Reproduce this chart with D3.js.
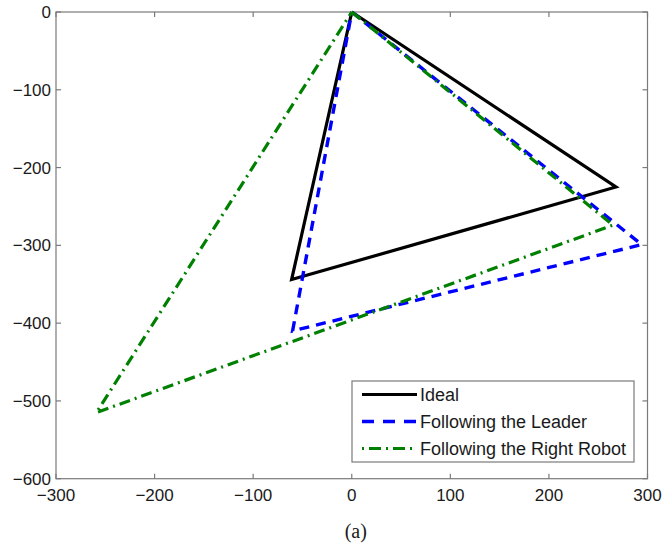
<!DOCTYPE html>
<html>
<head>
<meta charset="utf-8">
<script src="https://cdn.jsdelivr.net/npm/d3@7"></script>
<style>
  html, body { margin: 0; padding: 0; background: #fff; }
  svg { display: block; }
</style>
</head>
<body>
<script>
// Formation triangles (x, y) – vertices in order, closed back to the start
const ideal = [[0, 0], [268, -225], [-61, -344], [0, 0]];
const leader = [[0, 0], [294, -299], [-60, -410], [0, 0]];
const rightRobot = [[0, 0], [265, -274], [-259, -515], [0, 0]];

const seriesNames = ["Ideal", "Following the Leader", "Following the Right Robot"];
const xTicks = [-300, -200, -100, 0, 100, 200, 300];
const yTicks = [0, -100, -200, -300, -400, -500, -600];
const caption = "(a)";

const W = 667, H = 545;
const plotL = 56, plotR = 647.5, plotT = 12, plotB = 478.7;

const svg = d3.select("body").append("svg").attr("width", W).attr("height", H);

const x = d3.scaleLinear().domain([-300, 300]).range([plotL, plotR]);
const y = d3.scaleLinear().domain([-600, 0]).range([plotB, plotT]);

const axisColor = "#7a7a7a";
const textColor = "#1a1a1a";
const font = "Liberation Sans";
const fs = 17;

// Plot box
svg.append("rect")
  .attr("x", plotL).attr("y", plotT)
  .attr("width", plotR - plotL).attr("height", plotB - plotT)
  .attr("fill", "none").attr("stroke", axisColor).attr("stroke-width", 1.2);

// Inward ticks on all four sides
const tl = 5;
const tickG = svg.append("g").attr("stroke", axisColor).attr("stroke-width", 1.2);
xTicks.forEach(t => {
  tickG.append("line").attr("x1", x(t)).attr("x2", x(t)).attr("y1", plotB).attr("y2", plotB - tl);
  tickG.append("line").attr("x1", x(t)).attr("x2", x(t)).attr("y1", plotT).attr("y2", plotT + tl);
});
yTicks.forEach(t => {
  tickG.append("line").attr("x1", plotL).attr("x2", plotL + tl).attr("y1", y(t)).attr("y2", y(t));
  tickG.append("line").attr("x1", plotR).attr("x2", plotR - tl).attr("y1", y(t)).attr("y2", y(t));
});

const fmt = v => (v < 0 ? "\u2212" + Math.abs(v) : String(v));

// Tick labels
svg.append("g").selectAll("text").data(xTicks).join("text")
  .attr("x", d => x(d)).attr("y", plotB + 22)
  .attr("text-anchor", "middle")
  .attr("font-family", font).attr("font-size", fs).attr("fill", textColor)
  .text(fmt);

svg.append("g").selectAll("text").data(yTicks).join("text")
  .attr("x", plotL - 5).attr("y", d => y(d) + 6)
  .attr("text-anchor", "end")
  .attr("font-family", font).attr("font-size", fs).attr("fill", textColor)
  .text(fmt);

// Series
const styles = [
  { data: ideal, color: "#000000", width: 3.2, dash: null },
  { data: leader, color: "#0000ff", width: 3.4, dash: "10,7" },
  { data: rightRobot, color: "#008000", width: 3.2, dash: "11,5,2,5" }
];

const line = d3.line().x(d => x(d[0])).y(d => y(d[1]));

const plotG = svg.append("g");
styles.forEach(s => {
  plotG.append("path")
    .attr("d", line(s.data))
    .attr("fill", "none")
    .attr("stroke", s.color)
    .attr("stroke-width", s.width)
    .attr("stroke-dasharray", s.dash)
    .attr("stroke-linejoin", "miter");
});

// Legend
const lg = { x: 352, y: 381, w: 282, h: 81 };
svg.append("rect")
  .attr("x", lg.x).attr("y", lg.y).attr("width", lg.w).attr("height", lg.h)
  .attr("fill", "#fff").attr("stroke", axisColor).attr("stroke-width", 1.2);

const rowY = [394.5, 421.5, 448.5];
styles.forEach((s, i) => {
  svg.append("line")
    .attr("x1", 362).attr("x2", 417)
    .attr("y1", rowY[i]).attr("y2", rowY[i])
    .attr("stroke", s.color).attr("stroke-width", s.width)
    .attr("stroke-dasharray", s.dash === null ? null : (i === 1 ? "12,9" : "2,5,12,5"));
  svg.append("text")
    .attr("x", 420).attr("y", rowY[i] + 6.5)
    .attr("font-family", font).attr("font-size", 18).attr("fill", textColor)
    .text(seriesNames[i]);
});

// Caption
svg.append("text")
  .attr("x", x(0) + 4).attr("y", 538)
  .attr("text-anchor", "middle")
  .attr("font-family", "Liberation Serif")
  .attr("font-size", 20).attr("fill", textColor)
  .text(caption);
</script>
</body>
</html>
